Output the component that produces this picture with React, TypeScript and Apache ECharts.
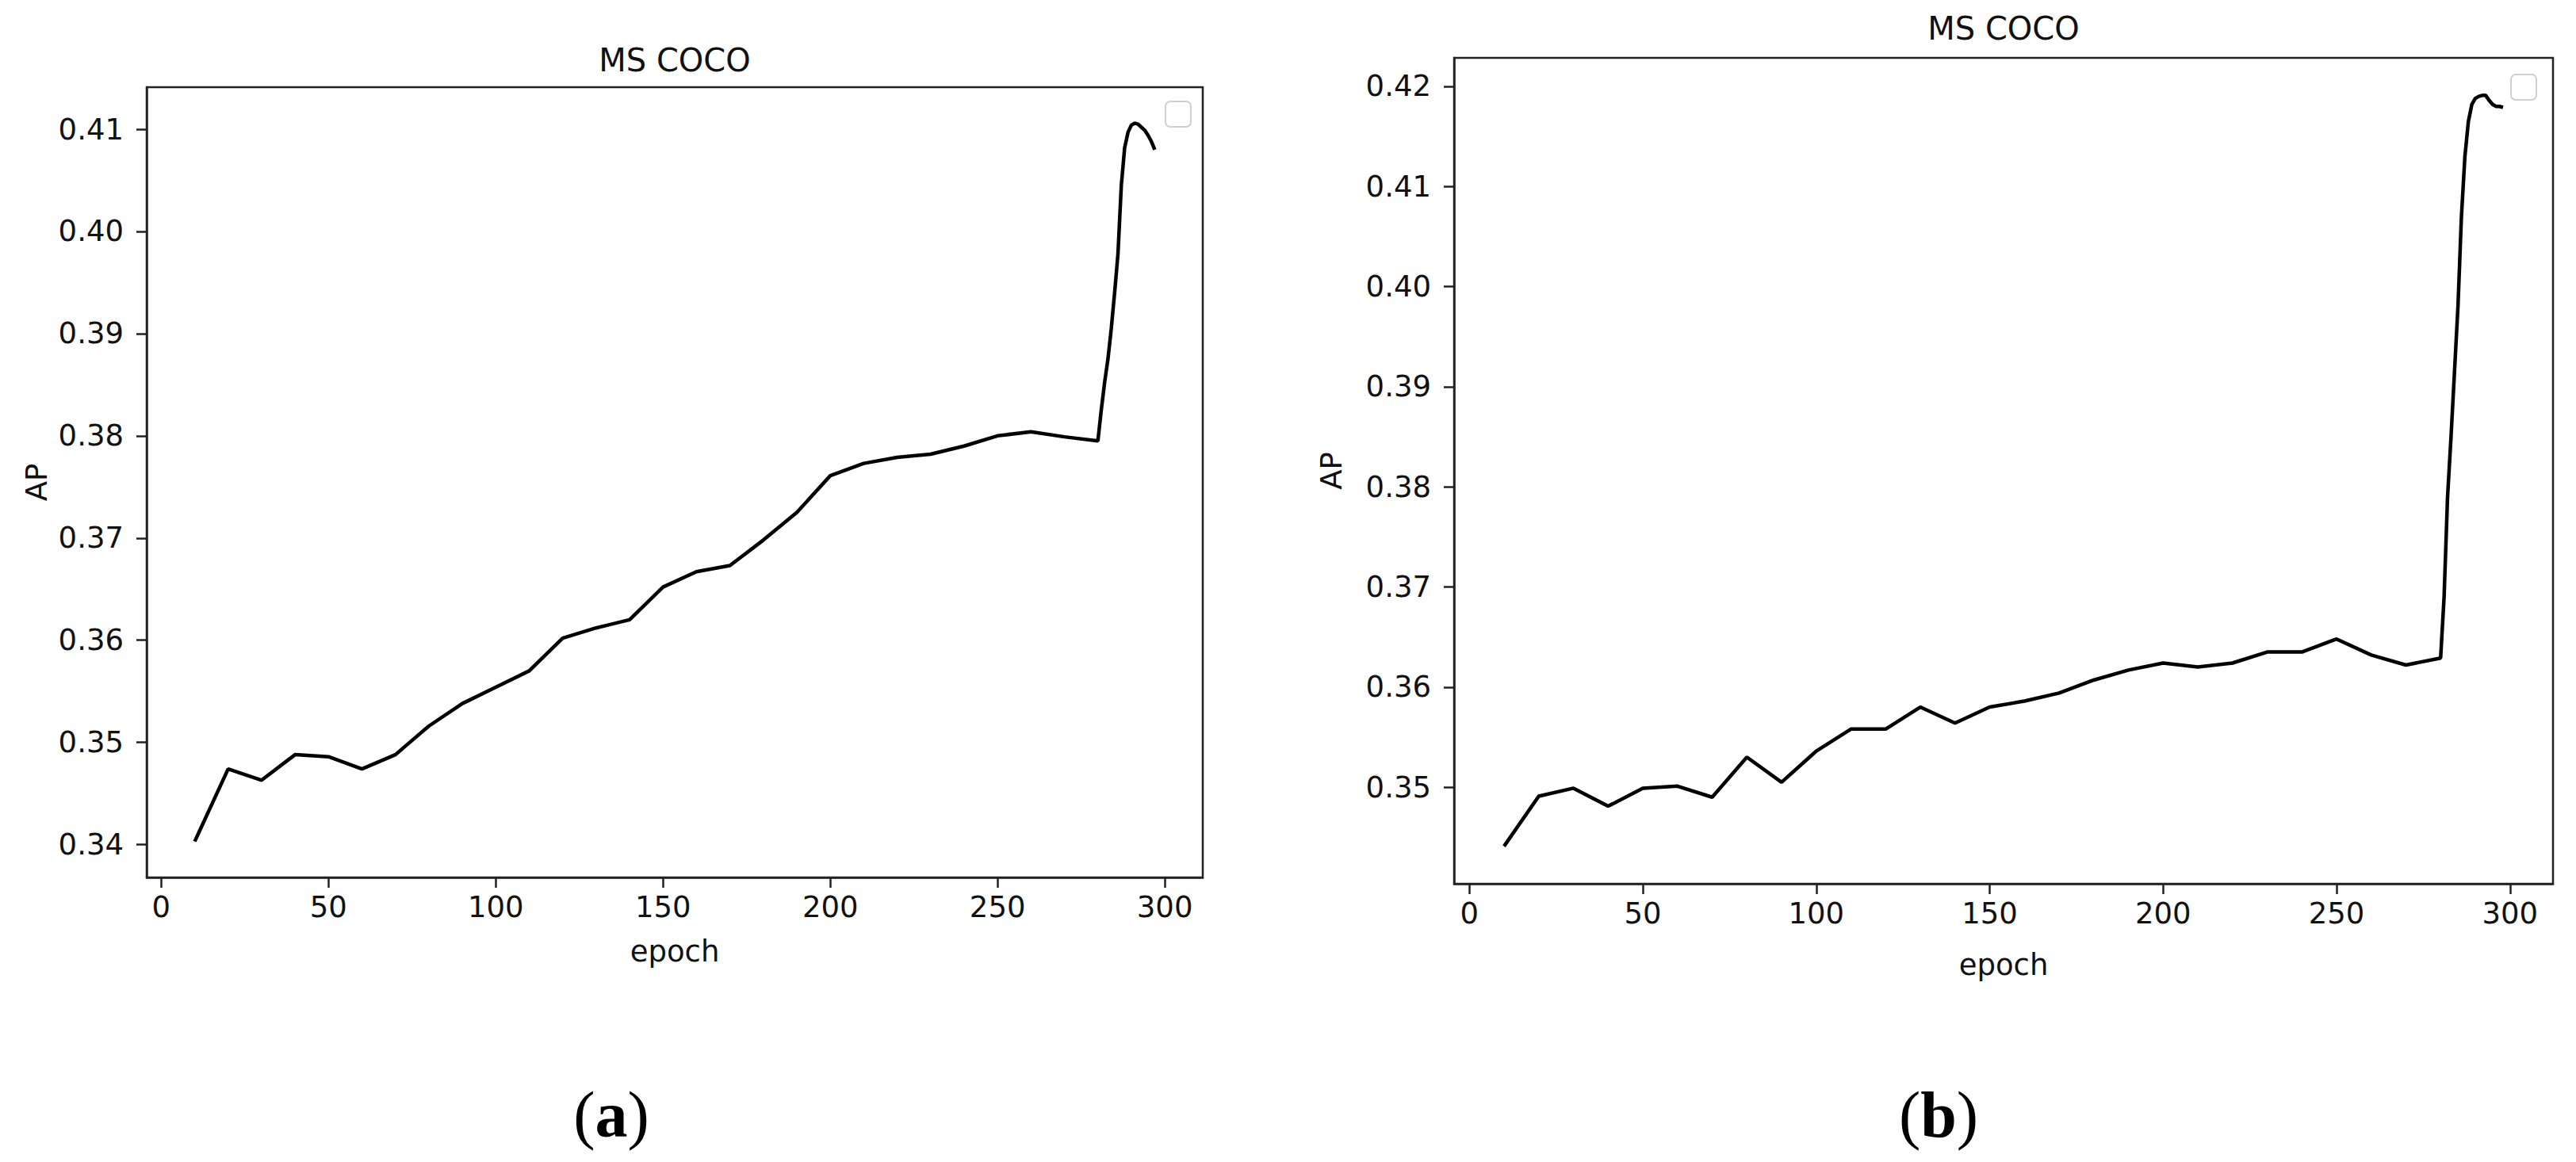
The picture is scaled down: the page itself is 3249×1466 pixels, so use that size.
import { useRef, useEffect } from "react";
import * as echarts from "echarts";

// epochs / AP values
const epochsA = [
  10, 20, 30, 40, 50, 60, 70, 80, 90, 100, 110, 120, 130, 140, 150, 160, 170, 180, 190, 200,
  210, 220, 230, 240, 250, 260, 270, 280, 281, 282, 283, 284, 285, 286, 287, 288, 289, 290,
  291, 292, 293, 294, 295, 296, 297,
];
const apA = [
  0.3403, 0.3474, 0.3463, 0.3488, 0.3486, 0.3474, 0.3488, 0.3516, 0.3538, 0.3554, 0.357,
  0.3602, 0.3612, 0.362, 0.3652, 0.3667, 0.3673, 0.3698, 0.3725, 0.3761, 0.3773, 0.3779,
  0.3782, 0.379, 0.38, 0.3804, 0.3799, 0.3795, 0.3825, 0.3852, 0.3875, 0.3905, 0.394, 0.3978,
  0.4045, 0.4082, 0.4097, 0.4104, 0.4106, 0.4105, 0.4102, 0.4099, 0.4094, 0.4088, 0.408,
];

const epochsB = [
  10, 20, 30, 40, 50, 60, 70, 80, 90, 100, 110, 120, 130, 140, 150, 160, 170, 180, 190, 200,
  210, 220, 230, 240, 250, 260, 270, 280, 281, 282, 283, 284, 285, 286, 287, 288, 289, 290,
  291, 292, 293, 294, 295, 296, 297, 298,
];
const apB = [
  0.3441, 0.3491, 0.3499, 0.3481, 0.3499, 0.3501, 0.349, 0.353, 0.3505, 0.3536, 0.3558,
  0.3558, 0.358, 0.3564, 0.358, 0.3586, 0.3594, 0.3607, 0.3617, 0.3624, 0.362, 0.3624,
  0.3635, 0.3635, 0.3648, 0.3632, 0.3622, 0.3629, 0.369, 0.379, 0.385, 0.3915, 0.398, 0.407,
  0.413, 0.4165, 0.4182, 0.4188, 0.419, 0.4191, 0.4191, 0.4186, 0.4182, 0.418, 0.418, 0.4179,
];

const xTicks = [0, 50, 100, 150, 200, 250, 300];
const yTicksA = [0.34, 0.35, 0.36, 0.37, 0.38, 0.39, 0.4, 0.41];
const yTicksB = [0.35, 0.36, 0.37, 0.38, 0.39, 0.4, 0.41, 0.42];

const FONT = "DejaVu Sans";
const INK = "#222";

function xAxisFor(gridIndex: number, min: number, max: number, gap: number) {
  return {
    type: "value" as const,
    gridIndex,
    min,
    max,
    name: "epoch",
    nameLocation: "middle" as const,
    nameGap: gap,
    nameTextStyle: { fontFamily: FONT, fontSize: 37, color: "#111" },
    axisLine: { show: true, onZero: false, lineStyle: { color: INK, width: 2.5 } },
    axisTick: { show: true, inside: false, length: 13, customValues: xTicks, lineStyle: { color: INK, width: 2.5 } },
    axisLabel: { customValues: xTicks, margin: 19, fontFamily: FONT, fontSize: 37, color: "#111" },
    splitLine: { show: false },
  };
}

function yAxisFor(gridIndex: number, min: number, max: number, ticks: number[], gap: number) {
  return {
    type: "value" as const,
    gridIndex,
    min,
    max,
    name: "AP",
    nameLocation: "middle" as const,
    nameGap: gap,
    nameRotate: 90,
    nameTextStyle: { fontFamily: FONT, fontSize: 37, color: "#111" },
    axisLine: { show: true, onZero: false, lineStyle: { color: INK, width: 2.5 } },
    axisTick: { show: true, inside: false, length: 13, customValues: ticks, lineStyle: { color: INK, width: 2.5 } },
    axisLabel: {
      customValues: ticks,
      margin: 29,
      fontFamily: FONT,
      fontSize: 37,
      color: "#111",
      formatter: (v: number) => v.toFixed(2),
    },
    splitLine: { show: false },
  };
}

function panelLabel(letter: string, x: number, y: number) {
  return {
    type: "text",
    x,
    y,
    style: {
      text: "({b|" + letter + "})",
      fontFamily: "Liberation Serif",
      fontSize: 82,
      fill: "#000",
      textAlign: "center",
      textVerticalAlign: "middle",
      rich: { b: { fontFamily: "Liberation Serif", fontSize: 82, fontWeight: "bold", fill: "#000" } },
    },
  };
}

function titleText(x: number, y: number) {
  return {
    type: "text",
    x,
    y,
    style: {
      text: "MS COCO",
      fontFamily: FONT,
      fontSize: 40,
      fill: "#111",
      textAlign: "center",
      textVerticalAlign: "middle",
    },
  };
}

function legendBox(x: number, y: number) {
  return {
    type: "rect",
    shape: { x, y, width: 32, height: 32, r: 6 },
    style: { fill: "#fff", stroke: "#cfcfcf", lineWidth: 2 },
    z: 10,
  };
}

export default function App() {
  const chartRef = useRef<HTMLDivElement>(null);

  useEffect(() => {
    if (!chartRef.current) return;
    const chart = echarts.init(chartRef.current, undefined, { renderer: "svg" });

    chart.setOption({
      animation: false,
      backgroundColor: "#fff",
      grid: [
        { left: 185, top: 110, width: 1332, height: 997, show: true, borderColor: INK, borderWidth: 2.5, backgroundColor: "#fff" },
        { left: 1834, top: 73, width: 1386, height: 1042, show: true, borderColor: INK, borderWidth: 2.5, backgroundColor: "#fff" },
      ],
      xAxis: [xAxisFor(0, -4.35, 311.35, 75), xAxisFor(1, -4.4, 312.4, 84)],
      yAxis: [
        yAxisFor(0, 0.336785, 0.414115, yTicksA, 120),
        yAxisFor(1, 0.34035, 0.42285, yTicksB, 136),
      ],
      series: [
        {
          type: "line",
          xAxisIndex: 0,
          yAxisIndex: 0,
          data: epochsA.map((e, i) => [e, apA[i]]),
          showSymbol: false,
          lineStyle: { color: "#000", width: 4.5 },
          itemStyle: { color: "#000" },
        },
        {
          type: "line",
          xAxisIndex: 1,
          yAxisIndex: 1,
          data: epochsB.map((e, i) => [e, apB[i]]),
          showSymbol: false,
          lineStyle: { color: "#000", width: 4.5 },
          itemStyle: { color: "#000" },
        },
      ],
      graphic: [
        titleText(851, 76),
        titleText(2527, 36),
        legendBox(1470, 128),
        legendBox(3167, 94),
        panelLabel("a", 771, 1406),
        panelLabel("b", 2445, 1406),
      ],
    });

    return () => {
      chart.dispose();
    };
  }, []);

  return (
    <div
      ref={chartRef}
      style={{ position: "fixed", left: 0, top: 0, width: 3249, height: 1466, background: "#fff" }}
    />
  );
}
